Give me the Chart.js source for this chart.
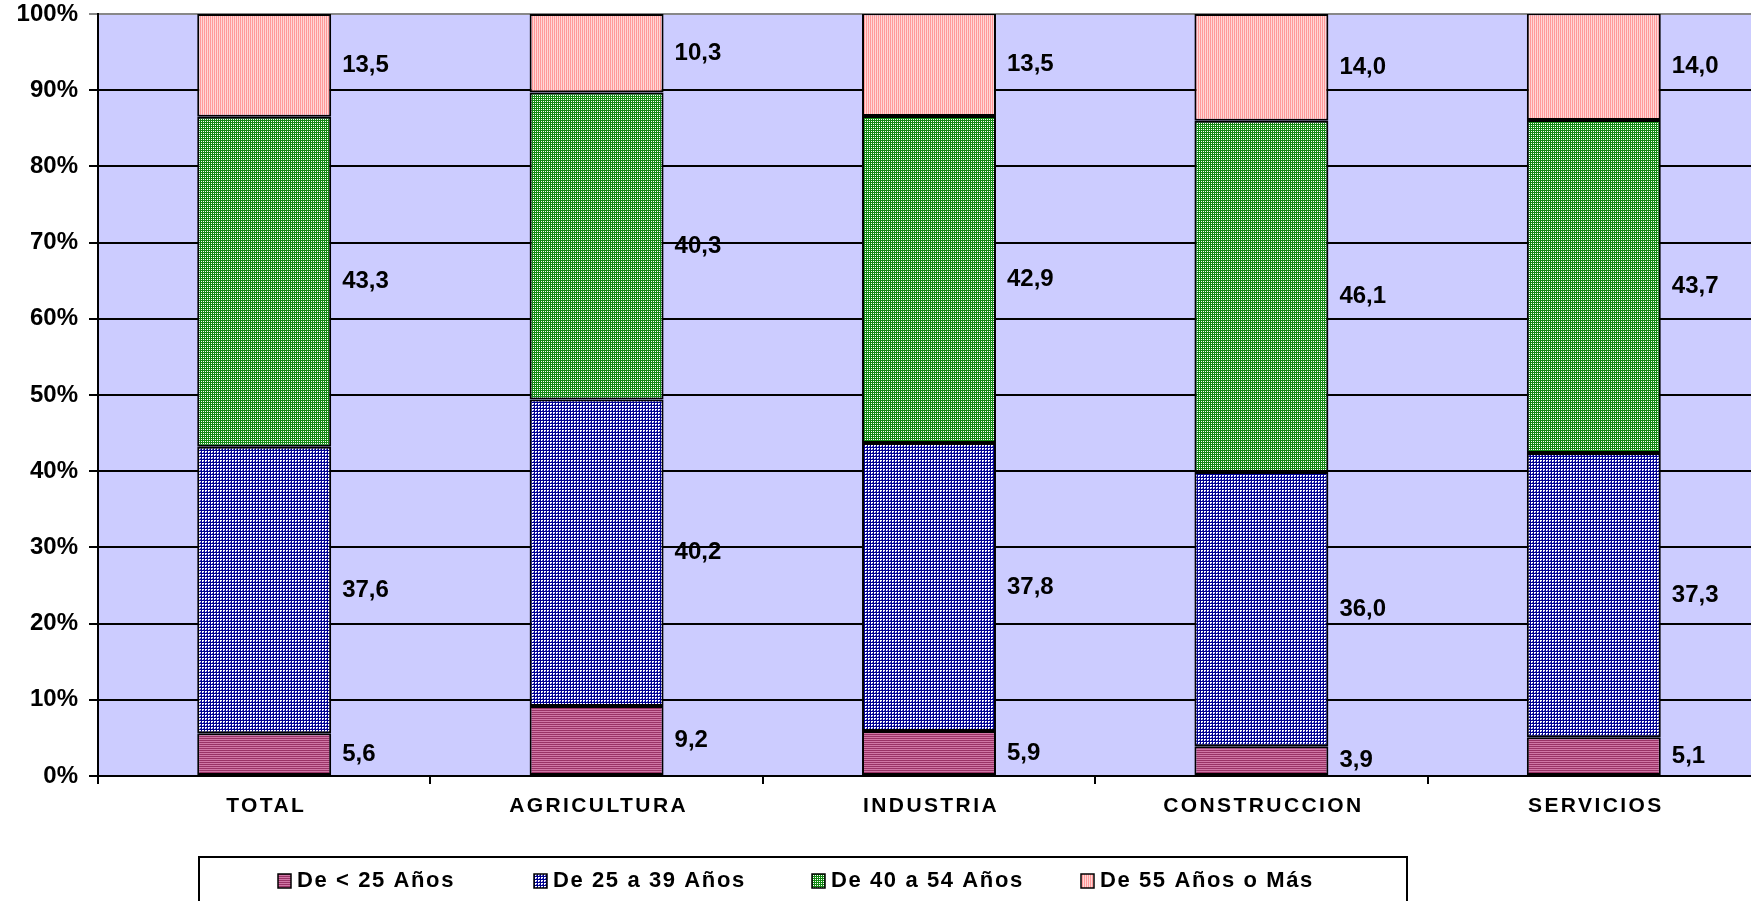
<!DOCTYPE html>
<html>
<head>
<meta charset="utf-8">
<script src="https://cdn.jsdelivr.net/npm/chart.js@4/dist/chart.umd.min.js"></script>
<style>
  html, body { margin: 0; padding: 0; background: #fff; overflow: hidden; }
  /* a touch wider than the window: the original plot is cropped on the right */
  #wrap { width: 1760px; height: 901px; }
</style>
</head>
<body>
<div id="wrap"><canvas id="ageChart"></canvas></div>
<script>
const sectors = ['TOTAL', 'AGRICULTURA', 'INDUSTRIA', 'CONSTRUCCION', 'SERVICIOS'];
const ageGroups = ['De < 25 Años', 'De 25 a 39 Años', 'De 40 a 54 Años', 'De 55 Años o Más'];
const under25 = [5.6, 9.2, 5.9, 3.9, 5.1];
const from25to39 = [37.6, 40.2, 37.8, 36.0, 37.3];
const from40to54 = [43.3, 40.3, 42.9, 46.1, 43.7];
const over55 = [13.5, 10.3, 13.5, 14.0, 14.0];
const yTicks = [0, 10, 20, 30, 40, 50, 60, 70, 80, 90, 100];

const font = 'Liberation Sans, Arial, sans-serif';

// small bitmap fills standing in for the old Excel hatch patterns
const makePattern = (w, h, paint) => {
    const c = document.createElement('canvas');
    c.width = w;
    c.height = h;
    const g = c.getContext('2d');
    paint(g);
    return document.getElementById('ageChart').getContext('2d').createPattern(c, 'repeat');
};
const px = (g, color, cells) => {
    g.fillStyle = color;
    cells.forEach(([x, y]) => g.fillRect(x, y, 1, 1));
};
const fills = [
    makePattern(2, 2, g => { px(g, '#993366', [[0, 0], [1, 0]]); px(g, '#d077a6', [[0, 1], [1, 1]]); }),
    makePattern(3, 3, g => {
        g.fillStyle = '#ffffff'; g.fillRect(0, 0, 3, 3);
        g.fillStyle = '#000090'; g.fillRect(0, 0, 3, 1); g.fillRect(0, 0, 1, 3);
        px(g, '#5050c8', [[2, 2]]);
    }),
    makePattern(2, 2, g => { g.fillStyle = '#138a13'; g.fillRect(0, 0, 2, 2); px(g, '#ffffff', [[1, 1]]); }),
    makePattern(2, 1, g => { px(g, '#ff9999', [[0, 0]]); px(g, '#ffd6d6', [[1, 0]]); })
];

const plotBackground = {
    id: 'plotBackground',
    beforeDraw(chart) {
        const { ctx, chartArea: a } = chart;
        ctx.save();
        ctx.fillStyle = '#ccccff';
        ctx.fillRect(a.left, a.top, a.right - a.left, a.bottom - a.top);
        ctx.restore();
    }
};

const valueLabels = {
    id: 'valueLabels',
    afterDatasetsDraw(chart) {
        const ctx = chart.ctx;
        ctx.save();
        ctx.font = 'bold 24px ' + font;
        ctx.fillStyle = '#000';
        ctx.textAlign = 'left';
        ctx.textBaseline = 'middle';
        chart.data.datasets.forEach((ds, i) => {
            chart.getDatasetMeta(i).data.forEach((el, j) => {
                const x = el.x + el.width / 2 + 11;
                const y = (el.y + el.base) / 2;
                ctx.fillText(ds.data[j].toFixed(1).replace('.', ','), x, y);
            });
        });
        ctx.restore();
    }
};

const categoryLabels = {
    id: 'categoryLabels',
    afterDraw(chart) {
        const ctx = chart.ctx;
        const xs = chart.scales.x;
        ctx.save();
        ctx.font = 'bold 21px ' + font;
        ctx.letterSpacing = '2.4px';
        ctx.fillStyle = '#000';
        ctx.textAlign = 'center';
        ctx.textBaseline = 'middle';
        chart.data.labels.forEach((lab, i) => {
            ctx.fillText(lab, xs.getPixelForValue(i) + 2, 806);
        });
        ctx.restore();
    }
};

const boxedLegend = {
    id: 'boxedLegend',
    afterDraw(chart) {
        const ctx = chart.ctx;
        const itemX = [278, 534, 812, 1081];
        ctx.save();
        ctx.strokeStyle = '#000';
        ctx.lineWidth = 2;
        ctx.strokeRect(199, 857, 1208, 60);
        ctx.font = 'bold 22px ' + font;
        ctx.letterSpacing = '1.6px';
        ctx.textAlign = 'left';
        ctx.textBaseline = 'middle';
        chart.data.datasets.forEach((ds, i) => {
            const x = itemX[i];
            ctx.fillStyle = ds.backgroundColor;
            ctx.fillRect(x, 874, 13, 14);
            ctx.lineWidth = 1.5;
            ctx.strokeRect(x, 874, 13, 14);
            ctx.fillStyle = '#000';
            ctx.fillText(ds.label, x + 19, 881);
        });
        ctx.restore();
    }
};

const series = [under25, from25to39, from40to54, over55];

new Chart(document.getElementById('ageChart'), {
    type: 'bar',
    data: {
        labels: sectors,
        datasets: series.map((vals, i) => ({
            label: ageGroups[i],
            data: vals,
            backgroundColor: fills[i],
            borderColor: '#000',
            borderWidth: 2,
            borderSkipped: false,
            categoryPercentage: 1,
            barPercentage: 0.403
        }))
    },
    options: {
        responsive: true,
        maintainAspectRatio: false,
        animation: false,
        layout: { padding: { top: 14, right: 0, left: 0, bottom: 0 } },
        scales: {
            x: {
                stacked: true,
                afterFit: s => { s.height = 125; s.paddingLeft = 0; s.paddingRight = 0; },
                border: { color: '#000', width: 2 },
                grid: {
                    offset: true,
                    drawOnChartArea: false,
                    color: '#000',
                    lineWidth: 2,
                    tickLength: 8
                },
                ticks: { color: 'rgba(0,0,0,0)', font: { family: font, size: 21, weight: 'bold' } }
            },
            y: {
                stacked: true,
                min: 0,
                max: 100,
                afterFit: s => { s.width = 98; s.paddingTop = 0; s.paddingBottom = 0; },
                afterBuildTicks: s => { s.ticks = yTicks.map(v => ({ value: v })); },
                border: { color: '#000', width: 2 },
                grid: {
                    color: c => (c.tick && c.tick.value === 100 ? '#888' : '#000'),
                    lineWidth: 2,
                    tickLength: 9
                },
                ticks: {
                    padding: 11,
                    color: '#000',
                    font: { family: font, size: 24, weight: 'bold' },
                    callback: v => v + '%'
                }
            }
        },
        plugins: {
            legend: { display: false },
            tooltip: { enabled: false }
        }
    },
    plugins: [plotBackground, valueLabels, categoryLabels, boxedLegend]
});
</script>
</body>
</html>
